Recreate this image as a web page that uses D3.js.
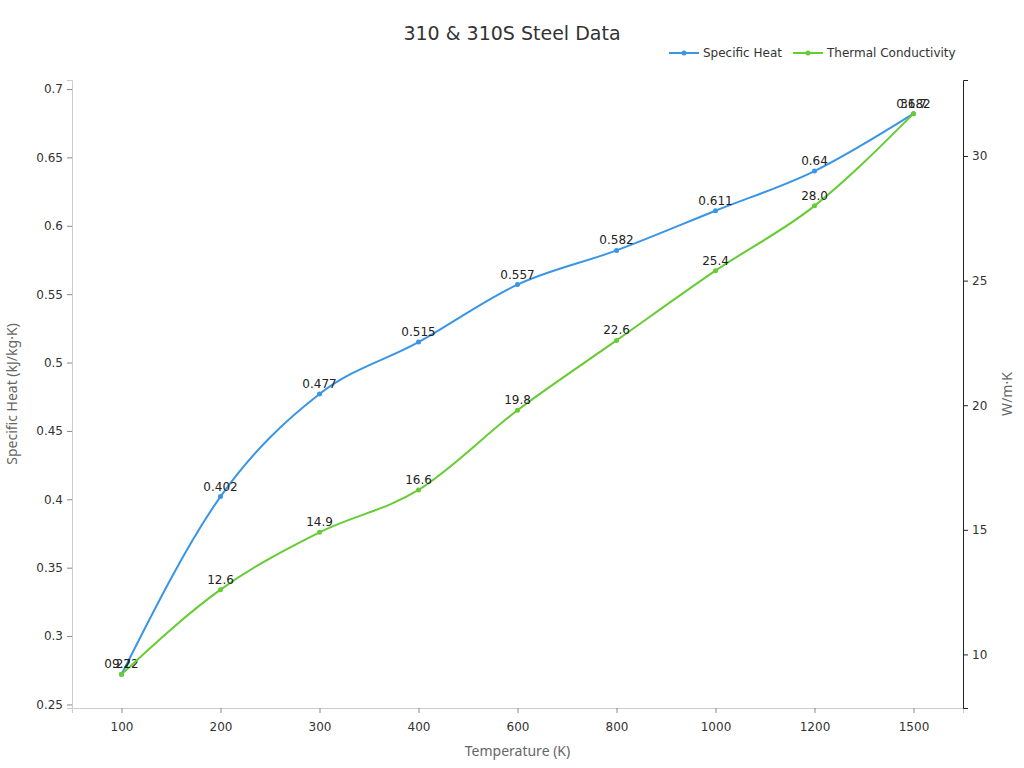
<!DOCTYPE html>
<html>
<head>
<meta charset="utf-8">
<script src="https://cdn.jsdelivr.net/npm/d3@7"></script>
<style>
  body { margin: 0; background: #fff; }
  svg { font-family: "DejaVu Sans", sans-serif; }
  .axis text { fill: #333; font-size: 12px; font-family: "DejaVu Sans", sans-serif; }
  .axis-title { fill: #666; font-size: 14px; font-family: "Noto Sans", sans-serif; }
  .val { font-size: 12px; fill: #222; text-anchor: middle; }
</style>
</head>
<body>
<svg id="chart" width="1024" height="768"></svg>
<script>
const temps = ["100", "200", "300", "400", "600", "800", "1000", "1200", "1500"];
const specificHeat = [0.272, 0.402, 0.477, 0.515, 0.557, 0.582, 0.611, 0.64, 0.682];
const conductivity = [9.2, 12.6, 14.9, 16.6, 19.8, 22.6, 25.4, 28.0, 31.7];
const leftTicks = [0.25, 0.3, 0.35, 0.4, 0.45, 0.5, 0.55, 0.6, 0.65, 0.7];
const rightTicks = [10, 15, 20, 25, 30];

const blue = "#3a95e4";
const green = "#66cc33";

const margin = {top: 80, right: 61, bottom: 60, left: 72};
const width = 1024 - margin.left - margin.right;
const height = 768 - margin.top - margin.bottom;

const svg = d3.select("#chart");

// title
svg.append("text")
  .attr("x", 512).attr("y", 40)
  .attr("text-anchor", "middle")
  .style("font-size", "19px")
  .style("fill", "#333")
  .text("310 & 310S Steel Data");

const g = svg.append("g")
  .attr("transform", "translate(" + margin.left + "," + margin.top + ")");

const x = d3.scalePoint().domain(temps).range([0, width]).padding(0.5);

function padded(vals) {
  const lo = d3.min(vals), hi = d3.max(vals), pad = (hi - lo) * 0.06;
  return [lo - pad, hi + pad];
}
const yL = d3.scaleLinear().domain(padded(specificHeat)).range([height, 0]);
const yR = d3.scaleLinear().domain(padded(conductivity)).range([height, 0]);

// x axis
const xAxis = g.append("g")
  .attr("class", "axis")
  .attr("transform", "translate(0," + height + ")")
  .call(d3.axisBottom(x).tickSizeOuter(0).tickSize(5).tickPadding(9));
xAxis.select(".domain").attr("stroke", "#ccc");
xAxis.selectAll(".tick line").attr("stroke", "#888");

// left axis
const lAxis = g.append("g")
  .attr("class", "axis")
  .call(d3.axisLeft(yL).tickValues(leftTicks).tickFormat(d => String(+d.toFixed(2))).tickSizeOuter(0).tickSize(5).tickPadding(4));
lAxis.select(".domain").attr("stroke", "#ccc");
lAxis.selectAll(".tick line").attr("stroke", "#888");

// right axis
const rAxis = g.append("g")
  .attr("class", "axis")
  .attr("transform", "translate(" + width + ",0)")
  .call(d3.axisRight(yR).tickValues(rightTicks).tickSizeOuter(0).tickSize(5).tickPadding(4));
rAxis.select(".domain").attr("stroke", "#222");
rAxis.selectAll(".tick line").attr("stroke", "#222");

// axis titles
svg.append("text")
  .attr("class", "axis-title")
  .attr("x", margin.left + width / 2).attr("y", 756)
  .attr("text-anchor", "middle")
  .text("Temperature (K)");

svg.append("text")
  .attr("class", "axis-title")
  .attr("transform", "translate(17," + (margin.top + height / 2) + ") rotate(-90)")
  .attr("text-anchor", "middle")
  .text("Specific Heat (kJ/kg·K)");

svg.append("text")
  .attr("class", "axis-title")
  .attr("transform", "translate(1012," + (margin.top + height / 2) + ") rotate(-90)")
  .attr("text-anchor", "middle")
  .text("W/m·K");

function drawSeries(vals, y, color, fmt) {
  const pts = temps.map((t, i) => [x(t), y(vals[i]), vals[i]]);
  const line = d3.line().x(d => d[0]).y(d => d[1]).curve(d3.curveMonotoneX);
  g.append("path")
    .datum(pts)
    .attr("fill", "none")
    .attr("stroke", color)
    .attr("stroke-width", 2)
    .attr("d", line);
  g.selectAll(null).data(pts).enter().append("circle")
    .attr("cx", d => d[0]).attr("cy", d => d[1]).attr("r", 2.5)
    .attr("fill", color);
  g.selectAll(null).data(pts).enter().append("text")
    .attr("class", "val")
    .attr("x", d => d[0]).attr("y", d => d[1] - 6)
    .text(d => fmt(d[2]));
}

drawSeries(specificHeat, yL, blue, d => String(d));
drawSeries(conductivity, yR, green, d => d.toFixed(1));

// legend
const legendItems = [["Specific Heat", blue], ["Thermal Conductivity", green]];
const lg = svg.append("g").attr("transform", "translate(669,53)");
let lx = 0;
legendItems.forEach(([name, color]) => {
  const it = lg.append("g").attr("transform", "translate(" + lx + ",0)");
  it.append("line").attr("x1", 0).attr("x2", 30).attr("y1", 0).attr("y2", 0)
    .attr("stroke", color).attr("stroke-width", 2);
  it.append("circle").attr("cx", 15).attr("cy", 0).attr("r", 2.5).attr("fill", color);
  const t = it.append("text").attr("x", 34).attr("y", 4)
    .style("font-size", "12px").style("fill", "#333").text(name);
  lx += 34 + t.node().getComputedTextLength() + 11;
});
</script>
</body>
</html>
